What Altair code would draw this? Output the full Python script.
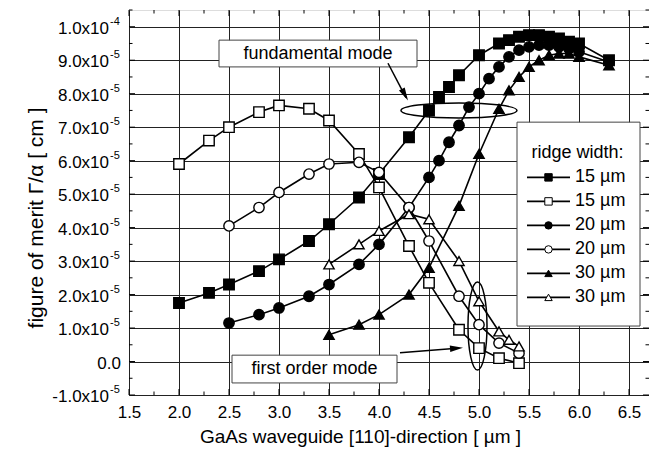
import altair as alt
import pandas as pd

# ---------------- data (values in units of 1e-5 cm) ----------------
sq15f_x = [2.0, 2.3, 2.5, 2.8, 3.0, 3.3, 3.5, 3.8, 4.0, 4.3, 4.5, 4.6, 4.7, 4.8, 5.0, 5.2, 5.3, 5.4, 5.5, 5.6, 5.7, 5.8, 5.9, 6.0, 6.3]
sq15f_y = [1.75, 2.05, 2.3, 2.7, 3.05, 3.6, 4.1, 4.9, 5.6, 6.7, 7.5, 7.9, 8.2, 8.55, 9.15, 9.5, 9.6, 9.7, 9.75, 9.75, 9.7, 9.65, 9.55, 9.5, 9.0]

sq15o_x = [2.0, 2.3, 2.5, 2.8, 3.0, 3.3, 3.5, 3.8, 4.0, 4.3, 4.5, 4.8, 5.0, 5.2, 5.4]
sq15o_y = [5.9, 6.6, 7.0, 7.45, 7.65, 7.55, 7.2, 6.2, 5.2, 3.45, 2.35, 0.95, 0.4, 0.1, -0.05]

c20f_x = [2.5, 2.8, 3.0, 3.3, 3.5, 3.8, 4.0, 4.3, 4.5, 4.6, 4.7, 4.8, 4.9, 5.0, 5.1, 5.2, 5.3, 5.4, 5.5, 5.6, 5.7, 5.8, 5.9, 6.0, 6.3]
c20f_y = [1.15, 1.4, 1.6, 1.95, 2.3, 2.9, 3.5, 4.6, 5.5, 6.0, 6.55, 7.05, 7.6, 8.0, 8.45, 8.8, 9.1, 9.3, 9.4, 9.45, 9.45, 9.4, 9.35, 9.25, 8.95]

c20o_x = [2.5, 2.8, 3.0, 3.3, 3.5, 3.8, 4.0, 4.3, 4.5, 4.8, 5.0, 5.2, 5.4]
c20o_y = [4.05, 4.6, 5.05, 5.6, 5.9, 5.95, 5.65, 4.6, 3.6, 1.95, 1.1, 0.55, 0.25]

t30f_x = [3.5, 3.8, 4.0, 4.3, 4.5, 4.8, 5.0, 5.2, 5.3, 5.4, 5.5, 5.6, 5.7, 5.8, 5.9, 6.0, 6.3]
t30f_y = [0.8, 1.1, 1.4, 2.0, 2.8, 4.65, 6.2, 7.55, 8.1, 8.5, 8.8, 9.0, 9.15, 9.2, 9.2, 9.1, 8.85]

t30o_x = [3.5, 3.8, 4.0, 4.3, 4.5, 4.8, 5.0, 5.2, 5.3, 5.4]
t30o_y = [2.9, 3.5, 3.9, 4.4, 4.25, 3.0, 1.8, 0.9, 0.65, 0.45]

series_ids = ["15f", "15o", "20f", "20o", "30f", "30o"]
series_labels = ["15 \u00b5m", "15 \u00b5m", "20 \u00b5m", "20 \u00b5m", "30 \u00b5m", "30 \u00b5m"]
series_shapes = ["square", "square", "circle", "circle", "triangle-up", "triangle-up"]
series_fills = ["black", "white", "black", "white", "black", "white"]
series_sizes = [110, 105, 135, 135, 160, 160]

x_major = [1.5, 2.0, 2.5, 3.0, 3.5, 4.0, 4.5, 5.0, 5.5, 6.0, 6.5]
x_minor = [1.75, 2.25, 2.75, 3.25, 3.75, 4.25, 4.75, 5.25, 5.75, 6.25]
y_major = [-1, 0, 1, 2, 3, 4, 5, 6, 7, 8, 9, 10]
y_minor = [-0.5, 0.5, 1.5, 2.5, 3.5, 4.5, 5.5, 6.5, 7.5, 8.5, 9.5, 10.5]
y_label_main = ["-1.0x10", "0.0", "1.0x10", "2.0x10", "3.0x10", "4.0x10", "5.0x10",
                "6.0x10", "7.0x10", "8.0x10", "9.0x10", "1.0x10"]
y_label_sup = ["-5", "", "-5", "-5", "-5", "-5", "-5", "-5", "-5", "-5", "-5", "-4"]

# ---------------- geometry ----------------
XMIN, XMAX = 1.5, 6.7
YMIN, YMAX = -1.0, 10.5
W, H = 520, 385
DX = (XMAX - XMIN) / W   # data units per pixel (x)
DY = (YMAX - YMIN) / H   # data units per pixel (y)
FONT = "Liberation Sans"

xs = alt.Scale(domain=[XMIN, XMAX], nice=False, zero=False)
ys = alt.Scale(domain=[YMIN, YMAX], nice=False, zero=False)

x_axis = alt.Axis(values=x_major, format=".1f", labelFontSize=17, labelPadding=9,
                  labelColor="black", labelFlush=False, labelOverlap=False,
                  ticks=False, domain=False, grid=True, gridColor="#222222",
                  gridWidth=1, gridOpacity=1,
                  title="GaAs waveguide [110]-direction [ \u00b5m ]",
                  titleX=231, titleY=41, titleAlign="center", titleBaseline="middle",
                  titleFontSize=19, titleFontWeight="normal", titleColor="black")
y_axis = alt.Axis(values=y_major, labels=False, ticks=False, domain=False, grid=True,
                  gridColor="#222222", gridWidth=1, gridOpacity=1,
                  title="figure of merit \u0393/\u03b1 [ cm ]",
                  titleX=-93, titleY=H / 2 + 15, titleAngle=270, titleAlign="center",
                  titleBaseline="middle", titleFontSize=21, titleFontWeight="normal",
                  titleColor="black")


def X(f="x"):
    return alt.X(f"{f}:Q", scale=xs, axis=x_axis)


def Y(f="y"):
    return alt.Y(f"{f}:Q", scale=ys, axis=y_axis)


# ---------------- data frame ----------------
rows = []
for sid, xv, yv in [("15f", sq15f_x, sq15f_y), ("15o", sq15o_x, sq15o_y),
                    ("20f", c20f_x, c20f_y), ("20o", c20o_x, c20o_y),
                    ("30f", t30f_x, t30f_y), ("30o", t30o_x, t30o_y)]:
    for a, b in zip(xv, yv):
        rows.append({"series": sid, "x": a, "y": b})
df = pd.DataFrame(rows)

shape_enc = alt.Shape("series:N", scale=alt.Scale(domain=series_ids, range=series_shapes), legend=None)
fill_enc = alt.Fill("series:N", scale=alt.Scale(domain=series_ids, range=series_fills), legend=None)

# ---------------- tick marks (inward, all four sides) ----------------
tick_rows = []
for v in x_major:
    tick_rows.append({"x": v, "x2": v, "y": YMIN, "y2": YMIN + 6 * DY})
    tick_rows.append({"x": v, "x2": v, "y": YMAX, "y2": YMAX - 6 * DY})
for v in x_minor:
    tick_rows.append({"x": v, "x2": v, "y": YMIN, "y2": YMIN + 3.5 * DY})
    tick_rows.append({"x": v, "x2": v, "y": YMAX, "y2": YMAX - 3.5 * DY})
for v in y_major:
    tick_rows.append({"x": XMIN, "x2": XMIN + 6 * DX, "y": v, "y2": v})
    tick_rows.append({"x": XMAX, "x2": XMAX - 6 * DX, "y": v, "y2": v})
for v in y_minor:
    tick_rows.append({"x": XMIN, "x2": XMIN + 3.5 * DX, "y": v, "y2": v})
    tick_rows.append({"x": XMAX, "x2": XMAX - 3.5 * DX, "y": v, "y2": v})
ticks = alt.Chart(pd.DataFrame(tick_rows)).mark_rule(color="black", strokeWidth=1).encode(
    x=X(), x2="x2:Q", y=Y(), y2="y2:Q")

# ---------------- y tick labels (with superscripts) ----------------
ylab = pd.DataFrame({"y": y_major, "main": y_label_main, "sup": y_label_sup, "x": [XMIN] * len(y_major)})
ylab_main = alt.Chart(ylab).transform_filter("datum.sup != ''").mark_text(
    align="right", baseline="middle", dx=-20, dy=2, fontSize=17, color="black").encode(
    x=X(), y=Y(), text="main:N")
ylab_sup = alt.Chart(ylab).transform_filter("datum.sup != ''").mark_text(
    align="left", baseline="middle", dx=-19, dy=-5, fontSize=11, color="black").encode(
    x=X(), y=Y(), text="sup:N")
ylab_zero = alt.Chart(ylab).transform_filter("datum.sup == ''").mark_text(
    align="right", baseline="middle", dx=-8, dy=2, fontSize=17, color="black").encode(
    x=X(), y=Y(), text="main:N")

# ---------------- annotation boxes ----------------
boxes = pd.DataFrame({
    "x": [2.40, 2.53, 5.38], "x2": [4.38, 4.18, 6.61],
    "y": [8.80, -0.64, 1.06], "y2": [9.60, 0.19, 7.15]})
box_layer = alt.Chart(boxes).mark_rect(fill="white", stroke="#444444", strokeWidth=1).encode(
    x=X(), x2="x2:Q", y=Y(), y2="y2:Q")

notes = pd.DataFrame({"x": [3.39, 3.355, 5.985], "y": [9.2, -0.22, 6.23],
                      "t": ["fundamental mode", "first order mode", "ridge width:"]})
note_text = alt.Chart(notes).mark_text(fontSize=18, color="black", baseline="middle").encode(
    x=X(), y=Y(), text="t:N")

# ---------------- data lines and markers ----------------
lines = alt.Chart(df).mark_line(color="black", strokeWidth=1.6).encode(
    x=X(), y=Y(), detail="series:N", order="x:Q")
markers = alt.Chart(df).mark_point(filled=True, stroke="black", strokeWidth=1.4, opacity=1, fillOpacity=1).encode(
    x=X(), y=Y(), shape=shape_enc, fill=fill_enc,
    size=alt.Size("series:N", scale=alt.Scale(domain=series_ids, range=series_sizes), legend=None))

# ---------------- legend (drawn inside the plot) ----------------
leg_rows = []
for i, (sid, lab) in enumerate(zip(series_ids, series_labels)):
    yy = 5.5 - i * 24 * DY
    leg_rows.append({"series": sid, "label": lab, "x": 5.48, "x2": 5.91, "xm": 5.695, "xt": 5.96, "y": yy})
leg = pd.DataFrame(leg_rows)
leg_lines = alt.Chart(leg).mark_rule(color="black", strokeWidth=1.8).encode(x=X(), x2="x2:Q", y=Y())
leg_marks = alt.Chart(leg).mark_point(filled=True, stroke="black", strokeWidth=1, size=55, opacity=1).encode(
    x=X("xm"), y=Y(), shape=shape_enc, fill=fill_enc)
leg_text = alt.Chart(leg).mark_text(align="left", baseline="middle", fontSize=18, color="black").encode(
    x=X("xt"), y=Y(), text="label:N")

# ---------------- ellipses and arrows ----------------
k = 0.5523


def ellipse_path(rx, ry):
    return (f"M{-rx},0 C{-rx},{-k*ry} {-k*rx},{-ry} 0,{-ry} "
            f"C{k*rx},{-ry} {rx},{-k*ry} {rx},0 "
            f"C{rx},{k*ry} {k*rx},{ry} 0,{ry} "
            f"C{-k*rx},{ry} {-rx},{k*ry} {-rx},0 Z")


ell1 = alt.Chart(pd.DataFrame({"x": [4.80], "y": [7.50]})).mark_point(
    shape=ellipse_path(1, 0.13), size=116 ** 2, filled=False, stroke="black",
    strokeWidth=1.5, opacity=1).encode(x=X(), y=Y())
ell2 = alt.Chart(pd.DataFrame({"x": [4.985], "y": [1.06]})).mark_point(
    shape=ellipse_path(0.216, 1), size=88 ** 2, filled=False, stroke="black",
    strokeWidth=1.5, opacity=1).encode(x=X(), y=Y())

arrows = pd.DataFrame({"x": [4.09, 4.21], "y": [8.91, 0.26], "x2": [4.27, 4.78], "y2": [7.88, 0.40],
                       "xt": [4.29, 4.84], "yt": [7.80, 0.41], "ang": [151.6, 85.5]})
arrow_lines = alt.Chart(arrows).mark_rule(color="black", strokeWidth=1.5).encode(
    x=X(), y=Y(), x2="x2:Q", y2="y2:Q")
arrow_heads = alt.Chart(arrows).mark_point(
    shape="M0,0 L0.5,2 L-0.5,2 Z", size=169, filled=True, color="black", opacity=1).encode(
    x=X("xt"), y=Y("yt"), angle=alt.Angle("ang:Q", scale=None))

chart = alt.layer(
    box_layer, ticks, lines, markers, ell1, ell2, arrow_lines, arrow_heads,
    leg_lines, leg_marks, leg_text, note_text, ylab_main, ylab_sup, ylab_zero
).properties(
    width=W, height=H,
    autosize=alt.AutoSizeParams(type="none"),
    padding={"left": 121, "top": 2, "right": 0, "bottom": 58},
).configure_view(stroke="black", strokeWidth=1.5).configure(font=FONT)

chart.save("out.html", embed_options={"renderer": "svg", "actions": False})
